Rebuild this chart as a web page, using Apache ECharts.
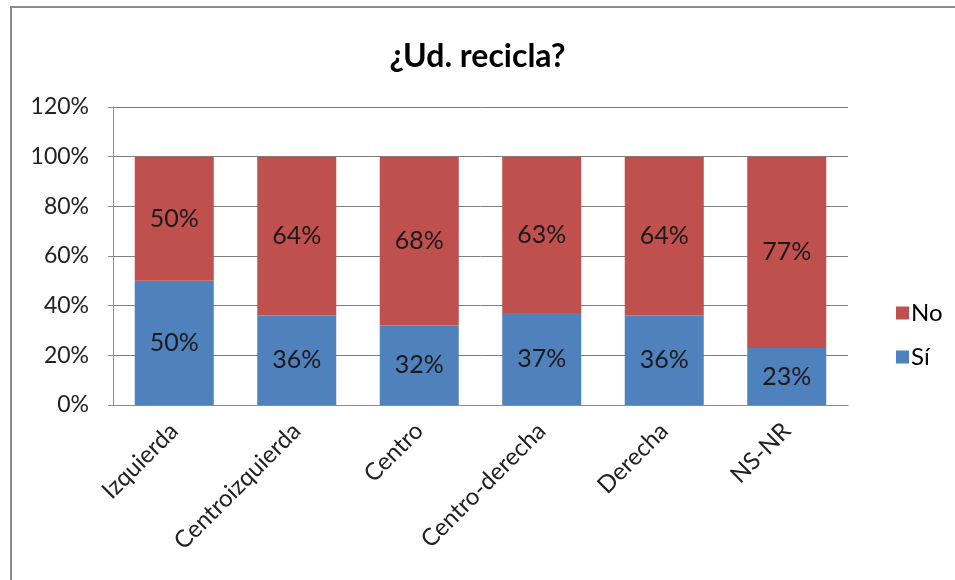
<!DOCTYPE html>
<html>
<head>
<meta charset="utf-8">
<script src="https://cdn.jsdelivr.net/npm/echarts@6/dist/echarts.min.js"></script>
<style>
  html, body { margin: 0; padding: 0; background: #fff; }
  #chart { width: 955px; height: 580px; }
</style>
</head>
<body>
<div id="chart"></div>
<script>
const categories = ['Izquierda', 'Centroizquierda', 'Centro', 'Centro-derecha', 'Derecha', 'NS-NR'];
const siValues = [50, 36, 32, 37, 36, 23];
const noValues = [50, 64, 68, 63, 64, 77];
const yTicks = [0, 20, 40, 60, 80, 100, 120];

const font = 'Lato, "Open Sans", sans-serif';
const chart = echarts.init(document.getElementById('chart'));

const option = {
  backgroundColor: '#fff',
  textStyle: { fontFamily: font },
  graphic: [
    {
      type: 'rect',
      shape: { x: 11, y: 7, width: 960, height: 600 },
      style: { fill: 'none', stroke: '#8c8c8c', lineWidth: 2 },
      silent: true
    }
  ],
  title: {
    text: '¿Ud. recicla?',
    left: 'center',
    top: 36,
    textStyle: { fontFamily: font, fontSize: 32, fontWeight: 'bold', color: '#000' }
  },
  color: ['#4F81BD', '#C0504D'],
  legend: {
    data: ['No', 'Sí'],
    orient: 'vertical',
    left: 891,
    top: 296,
    itemWidth: 13,
    itemHeight: 13,
    itemGap: 20,
    icon: 'rect',
    textStyle: { fontFamily: font, fontSize: 24, color: '#000', padding: [0, 0, 0, -3] }
  },
  grid: { left: 113, right: 107, top: 107, bottom: 175 },
  xAxis: {
    type: 'category',
    data: categories,
    axisLine: { lineStyle: { color: '#8c8c8c', width: 1 } },
    axisTick: { show: false },
    axisLabel: { rotate: 45, fontFamily: font, fontSize: 24, color: '#222', margin: 22 }
  },
  yAxis: {
    type: 'value',
    min: yTicks[0],
    max: yTicks[yTicks.length - 1],
    interval: 20,
    axisLine: { show: true, lineStyle: { color: '#8c8c8c' } },
    axisTick: { show: true, inside: false, length: 5, lineStyle: { color: '#8c8c8c' } },
    splitLine: { lineStyle: { color: '#7f7f7f', width: 1 } },
    axisLabel: { formatter: '{value}%', fontFamily: font, fontSize: 23, color: '#222', margin: 24 }
  },
  series: [
    {
      name: 'Sí',
      type: 'bar',
      stack: 'total',
      barWidth: '64.5%',
      data: siValues,
      itemStyle: { color: '#4F81BD' },
      label: { show: true, position: 'inside', formatter: '{c}%', fontFamily: font, fontSize: 25, color: '#1a1a1a' }
    },
    {
      name: 'No',
      type: 'bar',
      stack: 'total',
      barWidth: '64.5%',
      data: noValues,
      itemStyle: { color: '#C0504D' },
      label: { show: true, position: 'inside', formatter: '{c}%', fontFamily: font, fontSize: 25, color: '#1a1a1a' }
    }
  ]
};

chart.setOption(option);
</script>
</body>
</html>
